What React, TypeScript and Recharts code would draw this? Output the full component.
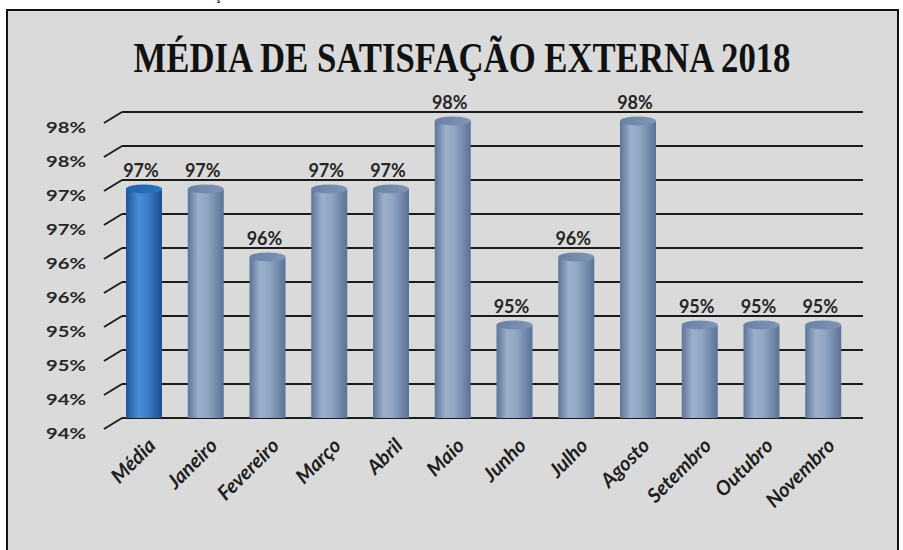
import { BarChart, Bar, XAxis, YAxis, CartesianGrid, LabelList } from 'recharts';

const months = ['Média', 'Janeiro', 'Fevereiro', 'Março', 'Abril', 'Maio', 'Junho', 'Julho', 'Agosto', 'Setembro', 'Outubro', 'Novembro'];
const satisfaction = [97.45, 97.45, 96.45, 97.45, 97.45, 98.45, 95.45, 96.45, 98.45, 95.45, 95.45, 95.45];
const valueLabels = ['97%', '97%', '96%', '97%', '97%', '98%', '95%', '96%', '98%', '95%', '95%', '95%'];
const yTicks = [94, 94.5, 95, 95.5, 96, 96.5, 97, 97.5, 98, 98.5];
const yTickLabels = ['94%', '94%', '95%', '95%', '96%', '96%', '97%', '97%', '98%', '98%'];

const data = months.map((name, i) => ({ name, value: satisfaction[i], label: valueLabels[i] }));

const SANS = 'Lato, "Open Sans", sans-serif';
// depth offset of the bars (they sit halfway between back wall and front)
const DX = -9;
const DY = 5.5;

function YTick(props: any) {
  const { y, payload } = props;
  const idx = yTicks.indexOf(payload.value);
  return (
    <g>
      <line x1={104} y1={y + 11} x2={122} y2={y} stroke="#1c1c1c" strokeWidth={2} />
      <text x={86} y={y + 21} textAnchor="end" fontFamily={SANS} fontWeight={700} fontSize={16} fill="#262626" textLength={40} lengthAdjust="spacingAndGlyphs">
        {yTickLabels[idx]}
      </text>
    </g>
  );
}

function XTick(props: any) {
  const { x, payload } = props;
  return (
    <text transform={`translate(${x + DX + 8},${442}) rotate(-45)`} textAnchor="end" dy={7} fontFamily={SANS} fontStyle="italic" fontWeight={700} fontSize={20} fill="#1e1e1e">
      {payload.value}
    </text>
  );
}

function Cylinder(props: any) {
  const { x, y, width, height, payload } = props;
  const hi = payload && payload.name === 'Média';
  const rx = width / 2;
  const ry = 4.5;
  const cx = x + rx + DX;
  const top = y + DY;
  const bottom = y + height + DY;
  const body = hi ? 'url(#cylHi)' : 'url(#cyl)';
  return (
    <g>
      <ellipse cx={cx} cy={bottom} rx={rx} ry={ry} fill={body} />
      <rect x={cx - rx} y={top} width={width} height={bottom - top} fill={body} />
      <ellipse cx={cx} cy={top} rx={rx} ry={ry} fill={hi ? 'url(#capHi)' : 'url(#cap)'} />
    </g>
  );
}

function ValueLabel(props: any) {
  const { x, y, width, value } = props;
  return (
    <text x={x + width / 2 + DX - 3} y={y - 6} textAnchor="middle" fontFamily={SANS} fontWeight={700} fontSize={18} fill="#262626">
      {value}
    </text>
  );
}

export default function App() {
  return (
    <div style={{ position: 'absolute', left: 0, top: 0, width: 903, height: 550, overflow: 'hidden', background: '#ffffff' }}>
      <div style={{ position: 'absolute', left: 6, top: 9, width: 889, height: 580, border: '2px solid #111', background: '#dadada' }} />
      <svg width={903} height={100} style={{ position: 'absolute', left: 0, top: 0 }}>
        <text x={214} y={0} fontFamily={SANS} fontSize={16} fill="#222">ção</text>
        <text x={462} y={72} textAnchor="middle" fontFamily='"Liberation Serif", serif' fontWeight={700} fontSize={42} fill="#111" textLength={657} lengthAdjust="spacingAndGlyphs">
          MÉDIA DE SATISFAÇÃO EXTERNA 2018
        </text>
      </svg>
      <div style={{ position: 'absolute', left: 0, top: 0 }}>
        <BarChart width={903} height={550} data={data} margin={{ top: 112, right: 40, bottom: 0, left: 0 }} barSize={36}>
          <defs>
            <linearGradient id="cyl" x1="0" y1="0" x2="1" y2="0">
              <stop offset="0%" stopColor="#5c7497" />
              <stop offset="30%" stopColor="#9cb0cc" />
              <stop offset="55%" stopColor="#90a5c3" />
              <stop offset="100%" stopColor="#5a7296" />
            </linearGradient>
            <linearGradient id="cylHi" x1="0" y1="0" x2="1" y2="0">
              <stop offset="0%" stopColor="#1c5597" />
              <stop offset="35%" stopColor="#4a8ed8" />
              <stop offset="60%" stopColor="#3b7dc8" />
              <stop offset="100%" stopColor="#1a5090" />
            </linearGradient>
            <linearGradient id="cap" x1="0" y1="0" x2="1" y2="0">
              <stop offset="0%" stopColor="#6880a3" />
              <stop offset="100%" stopColor="#7f96b7" />
            </linearGradient>
            <linearGradient id="capHi" x1="0" y1="0" x2="1" y2="0">
              <stop offset="0%" stopColor="#1f62ad" />
              <stop offset="100%" stopColor="#2f74c2" />
            </linearGradient>
          </defs>
          <CartesianGrid vertical={false} stroke="#1c1c1c" strokeWidth={2} />
          <XAxis dataKey="name" height={132} interval={0} tick={<XTick />} axisLine={false} tickLine={false} />
          <YAxis width={122} domain={[94, 98.5]} ticks={yTicks} tick={<YTick />} axisLine={false} tickLine={false} allowDataOverflow />
          <Bar dataKey="value" shape={<Cylinder />} isAnimationActive={false}>
            <LabelList dataKey="label" content={<ValueLabel />} />
          </Bar>
        </BarChart>
      </div>
    </div>
  );
}
